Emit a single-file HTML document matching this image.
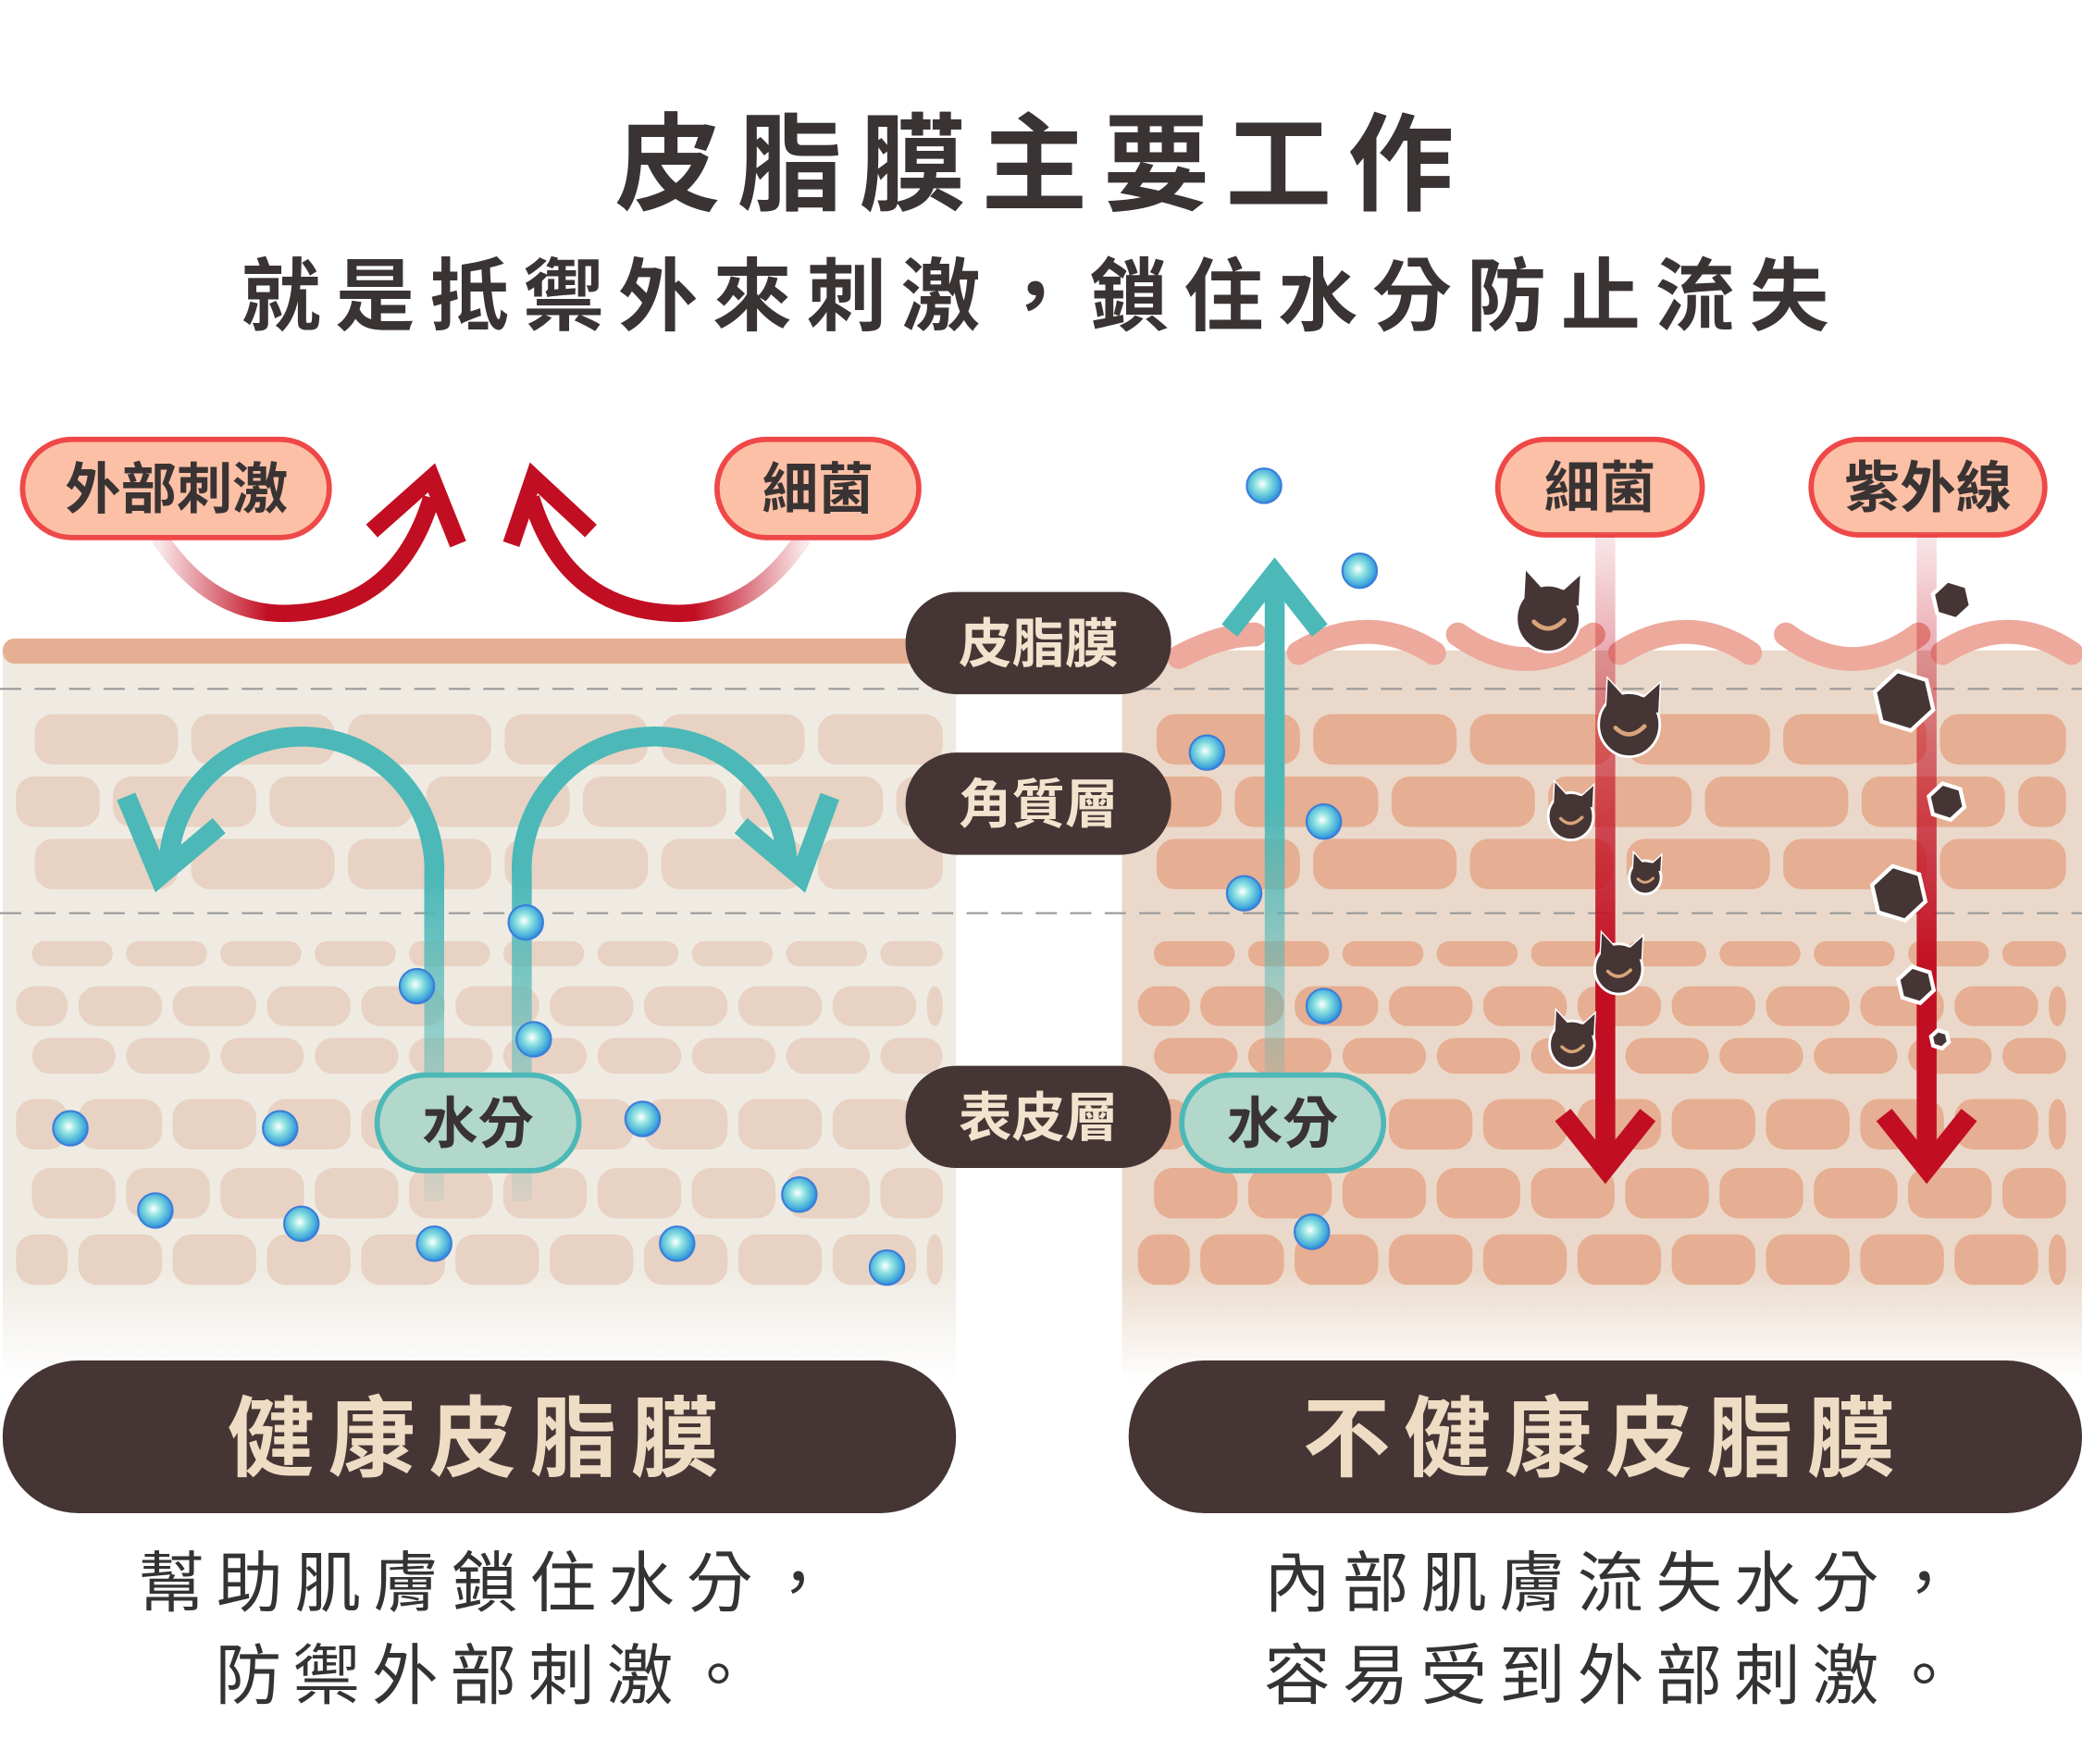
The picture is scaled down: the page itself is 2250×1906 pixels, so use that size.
<!DOCTYPE html>
<html><head><meta charset="utf-8">
<style>
html,body{margin:0;padding:0;background:#fff;}
svg{display:block;}
text{font-family:"Liberation Sans","Noto Sans CJK TC",sans-serif;}
</style></head>
<body>
<svg id="s" xmlns="http://www.w3.org/2000/svg" width="2250" height="1906" viewBox="0 0 1568 1329" preserveAspectRatio="none">
<defs>
<radialGradient id="drop" cx="0.45" cy="0.45" r="0.6">
<stop offset="0" stop-color="#ffffff"/><stop offset="0.35" stop-color="#8fe3e0"/><stop offset="0.8" stop-color="#3fa6dc"/><stop offset="1" stop-color="#2f6fd8"/>
</radialGradient>
<linearGradient id="fadeL" x1="0" y1="0" x2="0" y2="1">
<stop offset="0" stop-color="#efebe3"/><stop offset="0.85" stop-color="#efebe3"/><stop offset="1" stop-color="#efebe3" stop-opacity="0"/>
</linearGradient>
<linearGradient id="fadeR" x1="0" y1="0" x2="0" y2="1">
<stop offset="0" stop-color="#ead9ca"/><stop offset="0.85" stop-color="#ead9ca"/><stop offset="1" stop-color="#ead9ca" stop-opacity="0"/>
</linearGradient>
<linearGradient id="redDown" x1="0" y1="0" x2="0" y2="1">
<stop offset="0" stop-color="#c20e22" stop-opacity="0.1"/><stop offset="0.45" stop-color="#c20e22" stop-opacity="0.7"/><stop offset="0.7" stop-color="#c20e22"/><stop offset="1" stop-color="#c20e22"/>
</linearGradient>
<linearGradient id="tealUp" x1="0" y1="1" x2="0" y2="0">
<stop offset="0" stop-color="#4cb8b8" stop-opacity="0.1"/><stop offset="0.6" stop-color="#4cb8b8"/><stop offset="1" stop-color="#4cb8b8"/>
</linearGradient>
<linearGradient id="tealStem" x1="0" y1="0" x2="0" y2="1">
<stop offset="0" stop-color="#4cb8b8"/><stop offset="0.3" stop-color="#4cb8b8"/><stop offset="1" stop-color="#4cb8b8" stop-opacity="0.1"/>
</linearGradient>
<linearGradient id="arcL" x1="0" y1="0" x2="1" y2="0">
<stop offset="0" stop-color="#c20e22" stop-opacity="0.1"/><stop offset="0.4" stop-color="#c20e22"/><stop offset="1" stop-color="#c20e22"/>
</linearGradient>
<linearGradient id="arcR" x1="1" y1="0" x2="0" y2="0">
<stop offset="0" stop-color="#c20e22" stop-opacity="0.1"/><stop offset="0.4" stop-color="#c20e22"/><stop offset="1" stop-color="#c20e22"/>
</linearGradient>
</defs>
<rect width="1568" height="1329" fill="#fff"/>

<text x="785" y="152" text-anchor="middle" font-size="80" font-weight="bold" fill="#3a3333" letter-spacing="12">皮脂膜主要工作</text>
<text x="785" y="244" text-anchor="middle" font-size="60" font-weight="bold" fill="#3a3333" letter-spacing="11">就是抵禦外來刺激，鎖住水分防止流失</text>

<rect x="2" y="490" width="718" height="550" fill="url(#fadeL)"/>
<rect x="845" y="490" width="723" height="550" fill="url(#fadeR)"/>
<g id="bricks"></g>

<rect x="2" y="481" width="700" height="19" rx="9" fill="#e6af93"/>
<g fill="none" stroke="#eda99c" stroke-width="18" stroke-linecap="round">
<path d="M888 495 Q920 478 945 478"/>
<path d="M978 492 Q1030 460 1080 492"/>
<path d="M1098 478 Q1150 515 1200 478"/>
<path d="M1220 492 Q1270 460 1318 492"/>
<path d="M1345 478 Q1395 515 1445 478"/>
<path d="M1463 492 Q1513 460 1560 492"/>
</g>

<g stroke="#999" stroke-width="1.5" stroke-dasharray="16 10">
<line x1="0" y1="519" x2="1568" y2="519"/>
<line x1="0" y1="688" x2="1568" y2="688"/>
</g>

<path d="M120 405 Q160 465 220 462 Q300 458 325 375" fill="none" stroke="url(#arcL)" stroke-width="13"/>
<path d="M280 400 L325 360 L345 410" fill="none" stroke="#c20e22" stroke-width="13"/>
<path d="M605 405 Q565 465 505 462 Q425 458 400 375" fill="none" stroke="url(#arcR)" stroke-width="13"/>
<path d="M445 400 L402 360 L385 410" fill="none" stroke="#c20e22" stroke-width="13"/>

<g stroke="#ef4848" stroke-width="4" fill="#fcc0a6">
<rect x="17" y="331" width="231" height="74" rx="37"/>
<rect x="540" y="331" width="152" height="74" rx="37"/>
<rect x="1128" y="331" width="154" height="72" rx="36"/>
<rect x="1364" y="331" width="176" height="72" rx="36"/>
</g>
<g font-size="42" font-weight="bold" fill="#3a3333" text-anchor="middle">
<text x="133" y="383">外部刺激</text>
<text x="616" y="383">細菌</text>
<text x="1205" y="382">細菌</text>
<text x="1452" y="382">紫外線</text>
</g>

<path d="M327 905 L327 660 A100 100 0 0 0 127 650" fill="none" stroke="url(#tealStem)" stroke-width="15"/>
<path d="M95 600 L120 660 L165 622" fill="none" stroke="#4cb8b8" stroke-width="15"/>
<path d="M393 905 L393 660 A100 100 0 0 1 593 650" fill="none" stroke="url(#tealStem)" stroke-width="15"/>
<path d="M625 600 L603 660 L558 622" fill="none" stroke="#4cb8b8" stroke-width="15"/>

<rect x="952.5" y="440" width="15" height="400" fill="url(#tealUp)"/>
<path d="M926 475 L960 432 L994 475" fill="none" stroke="#4cb8b8" stroke-width="15"/>

<rect x="1201.5" y="403" width="15" height="470" fill="url(#redDown)"/>
<path d="M1177 840 L1209 880 L1241 840" fill="none" stroke="#c20e22" stroke-width="15"/>
<rect x="1443.5" y="403" width="15" height="470" fill="url(#redDown)"/>
<path d="M1419 840 L1451 880 L1483 840" fill="none" stroke="#c20e22" stroke-width="15"/>

<rect x="284" y="810" width="152" height="72" rx="36" fill="#b2d7cb" stroke="#4cb8b8" stroke-width="4"/>
<text x="360" y="861" text-anchor="middle" font-size="42" font-weight="bold" fill="#3a3333">水分</text>
<rect x="890" y="810" width="152" height="72" rx="36" fill="#b2d7cb" stroke="#4cb8b8" stroke-width="4"/>
<text x="966" y="861" text-anchor="middle" font-size="42" font-weight="bold" fill="#3a3333">水分</text>

<g fill="#453535">
<rect x="682" y="446" width="200" height="77" rx="38"/>
<rect x="682" y="567" width="200" height="77" rx="38"/>
<rect x="682" y="803" width="200" height="77" rx="38"/>
</g>
<g font-size="40" font-weight="bold" fill="#f2e3cf" text-anchor="middle">
<text x="782" y="499">皮脂膜</text>
<text x="782" y="620">角質層</text>
<text x="782" y="856">表皮層</text>
</g>

<g id="drops"></g>
<g id="germs"></g>

<rect x="2" y="1025" width="718" height="115" rx="57" fill="#453535"/>
<rect x="850" y="1025" width="718" height="115" rx="57" fill="#453535"/>
<text x="361" y="1107" text-anchor="middle" font-size="66" font-weight="bold" fill="#efdcc4" letter-spacing="10">健康皮脂膜</text>
<text x="1209" y="1107" text-anchor="middle" font-size="66" font-weight="bold" fill="#efdcc4" letter-spacing="10">不健康皮脂膜</text>

<g font-size="50" fill="#333" letter-spacing="9">
<text x="104" y="1210">幫助肌膚鎖住水分，</text>
<text x="162" y="1280">防禦外部刺激。</text>
<text x="952" y="1210">內部肌膚流失水分，</text>
<text x="952" y="1280">容易受到外部刺激。</text>
</g>
</svg>
<script>
var NS="http://www.w3.org/2000/svg";
function el(p,t,a){var e=document.createElementNS(NS,t);for(var k in a)e.setAttribute(k,a[k]);p.appendChild(e);return e;}
var B=document.getElementById('bricks');
var rows=[
 {y:538,h:38,w:108,s:118,o:14},
 {y:585,h:38,w:108,s:118,o:-45},
 {y:632,h:38,w:108,s:118,o:14},
 {y:709,h:19,w:61,s:71,o:12},
 {y:743,h:30,w:63,s:71,o:-24},
 {y:782,h:27,w:63,s:71,o:12},
 {y:828,h:38,w:63,s:71,o:-24},
 {y:880,h:38,w:63,s:71,o:12},
 {y:930,h:38,w:63,s:71,o:-24}
];
function panel(x0,x1,fill){
 rows.forEach(function(r){
  for(var x=x0+r.o;x<x1;x+=r.s){
   var a=Math.max(x,x0),b=Math.min(x+r.w,x1);
   if(b-a<8)continue;
   el(B,'rect',{x:a,y:r.y,width:b-a,height:r.h,rx:Math.min(r.h/2,14),fill:fill});
  }
 });
}
panel(12,710,'#e8d2c3');
panel(857,1556,'#e6ae92');
var D=document.getElementById('drops');
[[53,850],[211,850],[117,912],[227,922],[327,937],[314,743],[396,695],[402,783],[484,843],[510,937],[602,900],[668,955],
 [952,366],[1024,430],[909,567],[997,619],[937,673],[997,758],[988,928]].forEach(function(p){
 el(D,'circle',{cx:p[0],cy:p[1],r:13,fill:'url(#drop)',stroke:'#3a7fd8','stroke-width':1.5});
});
var G=document.getElementById('germs');
function germ(x,y,r){
 var g=el(G,'g',{transform:'translate('+x+','+y+')'});
 var p='M'+(-r*0.75)+','+(-r*0.55)+' L'+(-r*0.7)+','+(-r*1.5)+' L'+(-r*0.2)+','+(-r*0.95)+' L'+(r*0.5)+','+(-r*0.9)+' L'+(r*1.0)+','+(-r*1.35)+' L'+(r*0.95)+','+(-r*0.4)+' Z';
 el(g,'path',{d:p,fill:'#453535',stroke:'#fff','stroke-width':2});
 el(g,'ellipse',{cx:0,cy:0,rx:r,ry:r*1.05,fill:'#453535',stroke:'#fff','stroke-width':2});
 el(g,'path',{d:p,fill:'#453535'});
 el(g,'path',{d:'M'+(-r*0.45)+','+(r*0.1)+' Q0,'+(r*0.55)+' '+(r*0.5)+','+(r*0.05),fill:'none',stroke:'#d9a47a','stroke-width':Math.max(2,r*0.14),'stroke-linecap':'round'});
}
germ(1166,466,24);germ(1227,546,23);germ(1183,615,17);germ(1239,661,12);germ(1219,730,18);germ(1184,787,17);
function hex(x,y,r){
 var pts=[];for(var i=0;i<6;i++){var a=Math.PI/3*i+0.3;pts.push((x+r*Math.cos(a)).toFixed(1)+','+(y+r*Math.sin(a)).toFixed(1));}
 el(G,'polygon',{points:pts.join(' '),fill:'#453535',stroke:'#fff','stroke-width':3});
}
hex(1470,452,15);hex(1434,528,23);hex(1466,604,14);hex(1430,673,21);hex(1443,742,14);hex(1461,783,7);
</script>
</body></html>
